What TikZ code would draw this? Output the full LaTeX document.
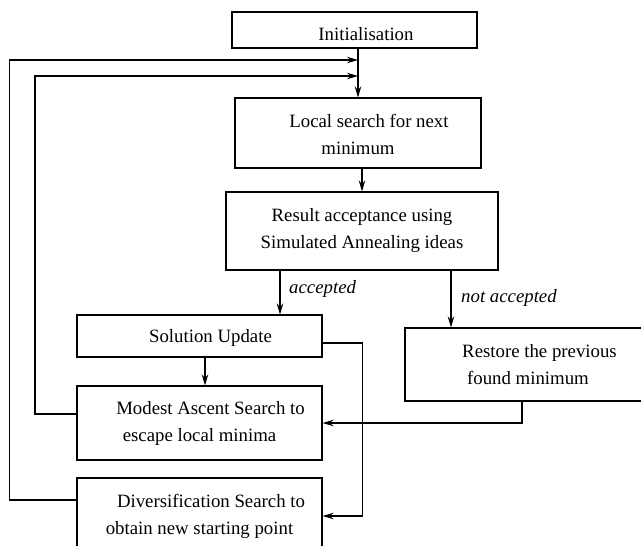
\documentclass[tikz,border=0pt]{standalone}
\usepackage{fontspec}
\setmainfont{Liberation Serif}
\usetikzlibrary{arrows.meta,calc}
\tikzset{
  box/.style={draw, line width=1.1pt, rectangle, inner sep=0pt, align=center,
    font={\fontsize{18.8}{27}\selectfont}},
  arr/.style={line width=1.1pt, -{Stealth[length=11pt,width=6.5pt,inset=3.5pt]}},
  lab/.style={font={\fontsize{18.8}{27}\selectfont\itshape}, inner sep=0pt, anchor=base west},
}
\begin{document}
\begin{tikzpicture}[x=1pt,y=-1pt]
\useasboundingbox (0,0) rectangle (641,546);
\clip (0,0) rectangle (641,546);
\node[box, minimum width=245pt, minimum height=36pt] (init) at (354.5,30) {\rule{0pt}{21pt}\hspace*{23pt}Initialisation};
\node[box, minimum width=246pt, minimum height=70pt] (local) at (358,133) {\rule{0pt}{17pt}\hspace*{22pt}Local search for next\\minimum};
\node[box, minimum width=272pt, minimum height=78pt] (result) at (362,231) {Result acceptance using\\Simulated Annealing ideas};
\node[box, minimum width=245pt, minimum height=42pt] (sol) at (199.5,336) {\rule{0pt}{16pt}\hspace*{22pt}Solution Update};
\node[box, minimum width=245pt, minimum height=74pt] (modest) at (199.5,423) {\hspace*{22pt}Modest Ascent Search to\\escape local minima};
\node[box, minimum width=246pt, minimum height=73pt] (restore) at (528,364.5) {\hspace*{23pt}Restore the previous\\found minimum};
\node[box, minimum width=245pt, minimum height=76pt] (divers) at (199.5,516) {\hspace*{23pt}Diversification Search to\\obtain new starting point};

% coordinates for connector routing
\coordinate (j1) at (358,60);
\coordinate (j2) at (358,76);
\coordinate (o1) at (9.5,500);
\coordinate (o2) at (9.5,60);
\coordinate (i1) at (35,414);
\coordinate (i2) at (35,76);
\coordinate (accx) at (280,0);
\coordinate (naccx) at (451,0);
\coordinate (sx) at (205,0);
\coordinate (r1) at (522,423);
\coordinate (s1) at (362.5,343);
\coordinate (s2) at (362.5,516);

% main flow
\draw[arr] (local.north |- init.south) -- (local.north);
\draw[arr] (result.north |- local.south) -- (result.north);
\draw[arr] (accx |- result.south) -- (accx |- sol.north);
\node[lab] (acc) at (289,293) {accepted};
\draw[arr] (naccx |- result.south) -- (naccx |- restore.north);
\node[lab] (nacc) at (461,302) {not accepted};
\draw[arr] (sx |- sol.south) -- (sx |- modest.north);

% restore to modest
\draw[arr] (r1 |- restore.south) -- (r1) -- (r1 -| modest.east);

% solution update to diversification
\draw[arr] (s1 -| sol.east) -- (s1) -- (s2) -- (s2 -| divers.east);

% loops back
\draw[arr] (o1 -| divers.west) -- (o1) -- (o2) -- (j1);
\draw[arr] (i1 -| modest.west) -- (i1) -- (i2) -- (j2);
\end{tikzpicture}
\end{document}
